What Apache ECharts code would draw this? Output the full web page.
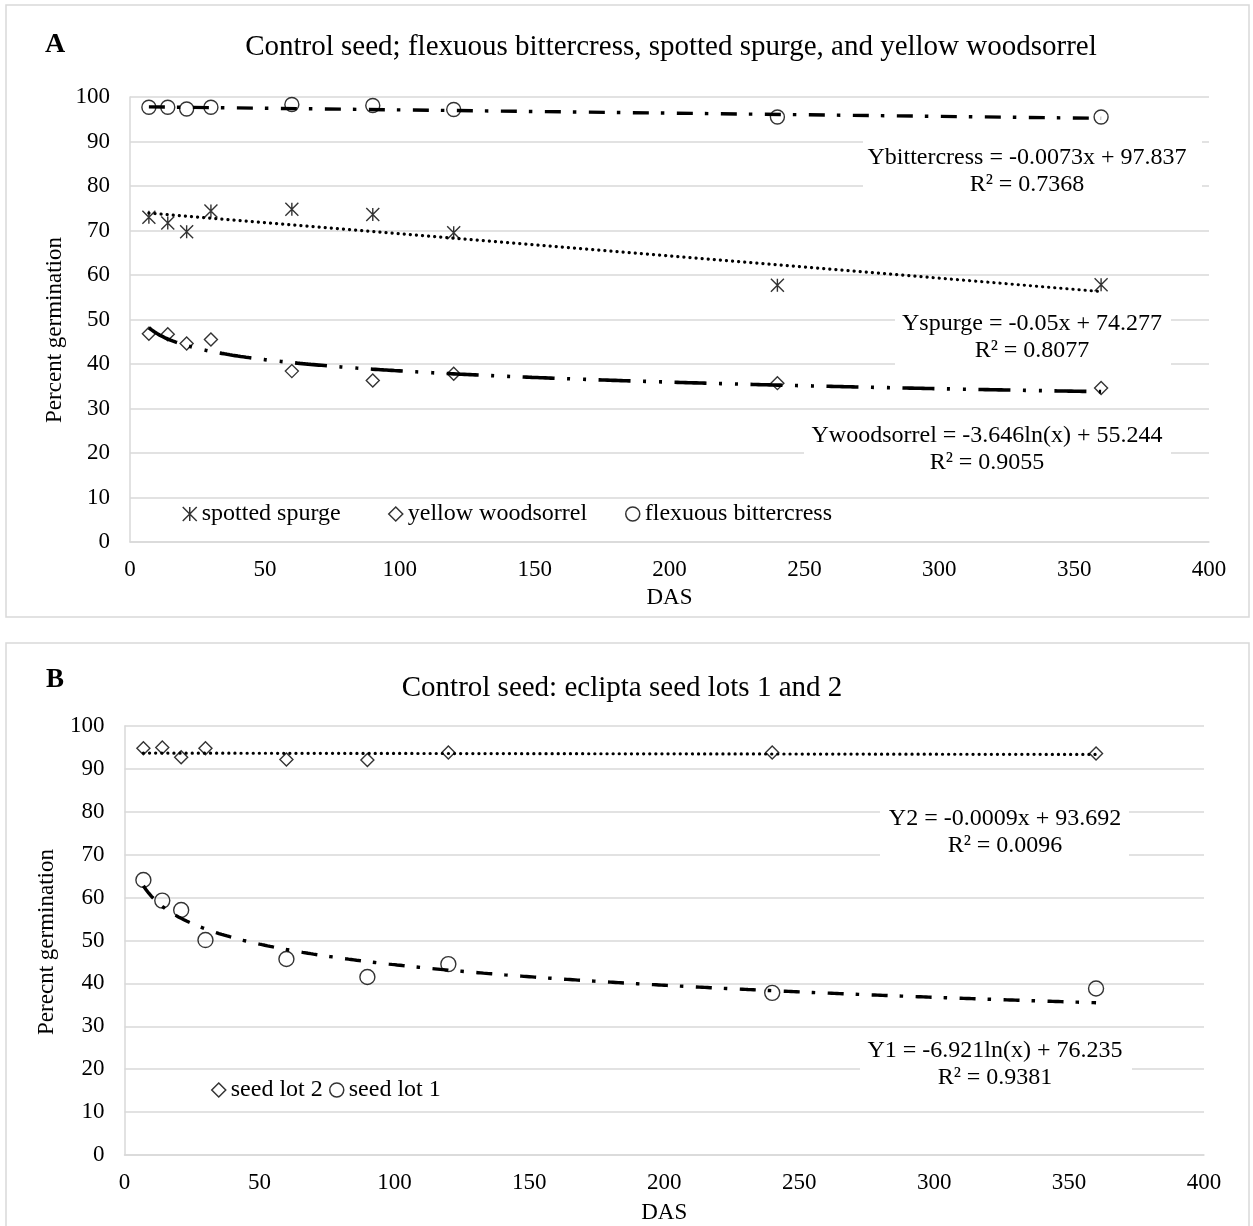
<!DOCTYPE html>
<html>
<head>
<meta charset="utf-8">
<title>Control seed germination</title>
<script src="https://cdn.jsdelivr.net/npm/echarts@6/dist/echarts.min.js"></script>
<style>
  html, body { margin: 0; padding: 0; background: #fff; }
  #chart { width: 1253px; height: 1226px; }
</style>
</head>
<body>
<div id="chart"></div>
<script>
// days after storage (DAS) where germination was counted
const days = [7, 14, 21, 30, 60, 90, 120, 240, 360]
const xTicks = [0, 50, 100, 150, 200, 250, 300, 350, 400]
const yTicks = [0, 10, 20, 30, 40, 50, 60, 70, 80, 90, 100]

// panel A
const spurge = [73.0, 71.7, 69.7, 74.4, 74.8, 73.6, 69.5, 57.7, 57.8]
const woodsorrel = [46.8, 46.7, 44.6, 45.5, 38.4, 36.3, 37.8, 35.7, 34.6]
const bittercress = [97.7, 97.7, 97.3, 97.7, 98.3, 98.1, 97.2, 95.5, 95.5]

// panel B
const lot2 = [94.8, 95.0, 92.7, 94.8, 92.2, 92.1, 93.8, 93.8, 93.6]
const lot1 = [64.1, 59.3, 57.1, 50.1, 45.7, 41.5, 44.5, 37.8, 38.8]

// trendline coefficients as printed on the chart: [slope, intercept]
const bittercressFit = [-0.0073, 97.837] // linear
const spurgeFit = [-0.05, 74.277]        // linear
const woodsorrelFit = [-3.646, 55.244]   // logarithmic
const lot2Fit = [-0.0009, 93.692]        // linear
const lot1Fit = [-6.921, 76.235]         // logarithmic

const eqBittercress = ['Ybittercress = -0.0073x + 97.837', 'R² = 0.7368']
const eqSpurge = ['Yspurge = -0.05x + 74.277', 'R² = 0.8077']
const eqWoodsorrel = ['Ywoodsorrel = -3.646ln(x) + 55.244', 'R² = 0.9055']
const eqLot2 = ['Y2 = -0.0009x + 93.692', 'R² = 0.0096']
const eqLot1 = ['Y1 = -6.921ln(x) + 76.235', 'R² = 0.9381']

const FONT = '"Liberation Serif", "Times New Roman", serif'
const GRID_GRAY = '#d9d9d9'
const asterisk = 'path://M0,0L10,10M10,0L0,10M5,0L5,10'

function pts(vals) {
  return days.map((d, i) => [d, vals[i]])
}
function linTrend(c) {
  const xs = [days[0], days[days.length - 1]]
  return xs.map(x => [x, c[0] * x + c[1]])
}
function logTrend(c) {
  const out = []
  for (let x = days[0]; x <= days[days.length - 1]; x += 1) {
    out.push([x, c[0] * Math.log(x) + c[1]])
  }
  return out
}

function xAxisFor(idx, gap) {
  return {
    gridIndex: idx, type: 'value',
    min: xTicks[0], max: xTicks[xTicks.length - 1], interval: xTicks[1] - xTicks[0],
    name: 'DAS', nameLocation: 'middle', nameGap: gap,
    nameTextStyle: { fontFamily: FONT, fontSize: 23, color: '#000' },
    axisLine: { show: true, lineStyle: { color: GRID_GRAY, width: 1.5 } },
    axisTick: { show: false },
    splitLine: { show: false },
    axisLabel: { fontFamily: FONT, fontSize: 23, color: '#000', margin: 16 }
  }
}
function yAxisFor(idx) {
  return {
    gridIndex: idx, type: 'value',
    min: yTicks[0], max: yTicks[yTicks.length - 1], interval: yTicks[1] - yTicks[0],
    axisLine: { show: true, lineStyle: { color: GRID_GRAY, width: 1.5 } },
    axisTick: { show: false },
    splitLine: { show: true, lineStyle: { color: GRID_GRAY, width: 1.5 } },
    axisLabel: { fontFamily: FONT, fontSize: 23, color: '#000', margin: 20 }
  }
}

const markerStyle = { color: 'rgba(0,0,0,0)', borderColor: '#000', borderWidth: 1.4 }

function dots(name, idx, vals, symbol, size) {
  return {
    type: 'scatter', name, xAxisIndex: idx, yAxisIndex: idx,
    data: pts(vals), symbol, symbolSize: size,
    itemStyle: markerStyle, z: 3, silent: true
  }
}
function trend(idx, data, width, dash, cap) {
  return {
    type: 'line', xAxisIndex: idx, yAxisIndex: idx, data,
    symbol: 'none', showSymbol: false, silent: true, z: 2,
    lineStyle: { color: '#000', width, type: dash, cap: cap || 'butt' }
  }
}

const DASH_DOT = [16, 12, 3.5, 12.5]
const LONG_DASH_DOT_DOT = [32, 12.5, 3, 13, 3, 12.5]
const ROUND_DOT = [0.1, 6]

function legendItem(name, icon, left, top) {
  return {
    data: [{ name, icon }], left, top, padding: 0,
    itemWidth: 14, itemHeight: 14, selectedMode: false,
    itemStyle: { color: 'rgba(0,0,0,0)', borderColor: '#000', borderWidth: 1.5 },
    textStyle: { fontFamily: FONT, fontSize: 24, color: '#000' }
  }
}

// white label boxes for trendline equations (like Excel data labels)
function eqLabel(lines, box, cx, cy) {
  return [
    { type: 'rect', z: 20, shape: { x: box[0], y: box[1], width: box[2] - box[0], height: box[3] - box[1] }, style: { fill: '#fff' } },
    { type: 'text', z: 21, x: cx, y: cy, style: { text: lines.join('\n'), font: '24px ' + FONT, fill: '#000', align: 'center', verticalAlign: 'middle', lineHeight: 27 } }
  ]
}

const chart = echarts.init(document.getElementById('chart'), null, { renderer: 'canvas' })

const option = {
  backgroundColor: '#fff',
  animation: false,
  grid: [
    { left: 130, top: 97, width: 1079, height: 445 },
    { left: 124.5, top: 726, width: 1079.5, height: 429 }
  ],
  xAxis: [xAxisFor(0, 44), xAxisFor(1, 46)],
  yAxis: [yAxisFor(0), yAxisFor(1)],
  legend: [
    legendItem('spotted spurge', asterisk, 182, 502),
    legendItem('yellow woodsorrel', 'diamond', 388, 502),
    legendItem('flexuous bittercress', 'circle', 625, 502),
    legendItem('seed lot 2', 'diamond', 211, 1078),
    legendItem('seed lot 1', 'circle', 329, 1078)
  ],
  series: [
    trend(0, linTrend(bittercressFit), 3.4, DASH_DOT),
    trend(0, linTrend(spurgeFit), 3.2, ROUND_DOT, 'round'),
    trend(0, logTrend(woodsorrelFit), 3.6, LONG_DASH_DOT_DOT),
    dots('spotted spurge', 0, spurge, asterisk, 13),
    dots('yellow woodsorrel', 0, woodsorrel, 'diamond', 13),
    dots('flexuous bittercress', 0, bittercress, 'circle', 14),

    trend(1, linTrend(lot2Fit), 3.2, ROUND_DOT, 'round'),
    trend(1, logTrend(lot1Fit), 3.4, DASH_DOT),
    dots('seed lot 2', 1, lot2, 'diamond', 13),
    dots('seed lot 1', 1, lot1, 'circle', 15)
  ],
  graphic: [
    // panel frames
    { type: 'rect', z: 0, shape: { x: 6, y: 5, width: 1243, height: 612 }, style: { fill: 'none', stroke: GRID_GRAY, lineWidth: 1.5 } },
    { type: 'rect', z: 0, shape: { x: 6, y: 643, width: 1243, height: 620 }, style: { fill: 'none', stroke: GRID_GRAY, lineWidth: 1.5 } },
    // panel letters and titles
    { type: 'text', x: 55, y: 45, style: { text: 'A', font: 'bold 28px ' + FONT, fill: '#000', align: 'center', verticalAlign: 'middle' } },
    { type: 'text', x: 671, y: 47, style: { text: 'Control seed; flexuous bittercress, spotted spurge, and yellow woodsorrel', font: '29px ' + FONT, fill: '#000', align: 'center', verticalAlign: 'middle' } },
    { type: 'text', x: 55, y: 680, style: { text: 'B', font: 'bold 27px ' + FONT, fill: '#000', align: 'center', verticalAlign: 'middle' } },
    { type: 'text', x: 622, y: 688, style: { text: 'Control seed: eclipta seed lots 1 and 2', font: '29px ' + FONT, fill: '#000', align: 'center', verticalAlign: 'middle' } },
    // y axis titles
    { type: 'text', x: 55, y: 330, rotation: Math.PI / 2, style: { text: 'Percent germination', font: '23px ' + FONT, fill: '#000', align: 'center', verticalAlign: 'middle' } },
    { type: 'text', x: 47, y: 942, rotation: Math.PI / 2, style: { text: 'Perecnt germination', font: '23px ' + FONT, fill: '#000', align: 'center', verticalAlign: 'middle' } },
    // trendline equations
    ...eqLabel(eqBittercress, [863, 138, 1202, 200], 1027, 171),
    ...eqLabel(eqSpurge, [895, 309, 1171, 372], 1032, 337),
    ...eqLabel(eqWoodsorrel, [804, 420, 1171, 480], 987, 449),
    ...eqLabel(eqLot2, [880, 802, 1129, 865], 1005, 832),
    ...eqLabel(eqLot1, [860, 1035, 1132, 1100], 995, 1064)
  ]
}

chart.setOption(option)
</script>
</body>
</html>
